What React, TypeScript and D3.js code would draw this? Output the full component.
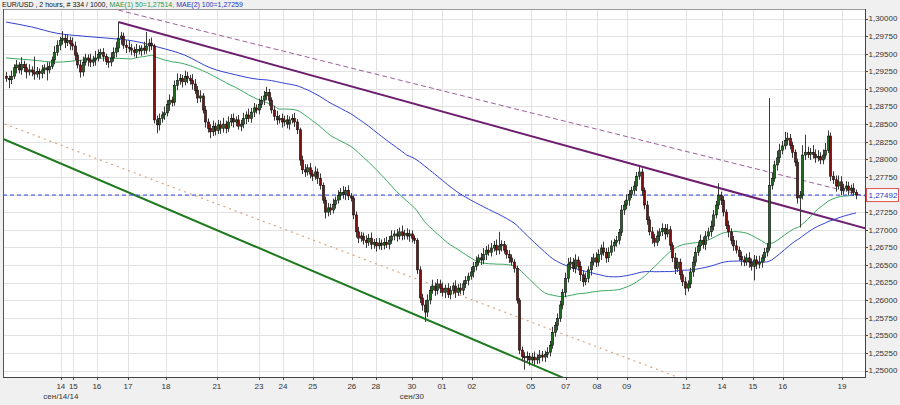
import React from 'react';
import * as d3 from 'd3';

// ---------- DATA ----------
const firstOpen = 1.2918;
const closes = [
  1.2915, 1.2913, 1.2918, 1.2930, 1.2934, 1.2927, 1.2935, 1.2930, 1.2924, 1.2927,
  1.2924, 1.2921, 1.2925, 1.2922, 1.2927, 1.2930, 1.2927, 1.2932, 1.2941, 1.2952,
  1.2962, 1.2969, 1.2972, 1.2966, 1.2969, 1.2964, 1.2961, 1.2948, 1.2934, 1.2924,
  1.2938, 1.2944, 1.2941, 1.2938, 1.2941, 1.2944, 1.2949, 1.2952, 1.2946, 1.2939,
  1.2938, 1.2944, 1.2952, 1.2958, 1.2972, 1.2975, 1.2962, 1.2959, 1.2958, 1.2955,
  1.2952, 1.2956, 1.2954, 1.2958, 1.2955, 1.2961, 1.2965, 1.2961, 1.2856, 1.2849,
  1.2858, 1.2863, 1.2866, 1.2878, 1.2884, 1.2881, 1.2905, 1.2912, 1.2915, 1.2910,
  1.2918, 1.2915, 1.2912, 1.2907, 1.2898, 1.2887, 1.2890, 1.2870, 1.2853, 1.2844,
  1.2839, 1.2847, 1.2841, 1.2849, 1.2844, 1.2850, 1.2844, 1.2853, 1.2858, 1.2853,
  1.2856, 1.2847, 1.2850, 1.2858, 1.2863, 1.2858, 1.2867, 1.2873, 1.2870, 1.2878,
  1.2884, 1.2890, 1.2895, 1.2884, 1.2870, 1.2861, 1.2856, 1.2858, 1.2853, 1.2856,
  1.2850, 1.2856, 1.2858, 1.2853, 1.2842, 1.2799, 1.2785, 1.2782, 1.2788, 1.2779,
  1.2776, 1.2782, 1.2773, 1.2763, 1.2742, 1.2725, 1.2731, 1.2728, 1.2736, 1.2742,
  1.2749, 1.2753, 1.2750, 1.2756, 1.2748, 1.2745, 1.2721, 1.2697, 1.2688, 1.2691,
  1.2685, 1.2682, 1.2688, 1.2679, 1.2682, 1.2677, 1.2681, 1.2678, 1.2682, 1.2679,
  1.2685, 1.2691, 1.2694, 1.2691, 1.2697, 1.2692, 1.2695, 1.2691, 1.2694, 1.2688,
  1.2685, 1.2643, 1.2603, 1.2593, 1.2583, 1.2600, 1.2614, 1.2620, 1.2614, 1.2623,
  1.2617, 1.2611, 1.2617, 1.2608, 1.2614, 1.2620, 1.2611, 1.2617, 1.2614, 1.2623,
  1.2628, 1.2634, 1.2640, 1.2648, 1.2654, 1.2660, 1.2657, 1.2665, 1.2671, 1.2668,
  1.2674, 1.2678, 1.2671, 1.2677, 1.2679, 1.2671, 1.2665, 1.2660, 1.2654, 1.2645,
  1.2600, 1.2529, 1.2520, 1.2518, 1.2520, 1.2515, 1.2519, 1.2515, 1.2518, 1.2522,
  1.2519, 1.2523, 1.2526, 1.2536, 1.2554, 1.2564, 1.2574, 1.2593, 1.2611, 1.2631,
  1.2651, 1.2654, 1.2645, 1.2657, 1.2648, 1.2636, 1.2626, 1.2631, 1.2643, 1.2654,
  1.2660, 1.2654, 1.2665, 1.2674, 1.2668, 1.2660, 1.2668, 1.2677, 1.2682, 1.2685,
  1.2696, 1.2728, 1.2735, 1.2742, 1.2750, 1.2756, 1.2762, 1.2776, 1.2782, 1.2756,
  1.2735, 1.2714, 1.2697, 1.2688, 1.2682, 1.2691, 1.2697, 1.2702, 1.2694, 1.2700,
  1.2678, 1.2660, 1.2645, 1.2654, 1.2636, 1.2626, 1.2617, 1.2623, 1.2640, 1.2654,
  1.2668, 1.2677, 1.2685, 1.2679, 1.2691, 1.2697, 1.2705, 1.2721, 1.2735, 1.2749,
  1.2742, 1.2725, 1.2706, 1.2697, 1.2685, 1.2677, 1.2671, 1.2662, 1.2657, 1.2654,
  1.2660, 1.2654, 1.2648, 1.2657, 1.2651, 1.2654, 1.2660, 1.2668, 1.2674, 1.2763,
  1.2773, 1.2792, 1.2802, 1.2813, 1.2819, 1.2827, 1.2830, 1.2820, 1.2810, 1.2796,
  1.2745, 1.2749, 1.2806, 1.2810, 1.2807, 1.2810, 1.2807, 1.2802, 1.2804, 1.2799,
  1.2806, 1.2813, 1.2833, 1.2776, 1.2771, 1.2762, 1.2768, 1.2756, 1.2759, 1.2762,
  1.2756, 1.2759, 1.2753, 1.27492,
];
// upper / lower shadow lengths in pips
const upperWicks = [
  6, 4, 8, 5, 7, 4, 10, 5, 6, 8, 5, 22, 6, 4, 7, 5, 8, 6, 5, 9,
  7, 5, 10, 6, 8, 5, 9, 6, 4, 7, 8, 6, 5, 9, 6, 10, 7, 5, 6, 4,
  6, 8, 7, 9, 23, 6, 5, 7, 9, 6, 5, 8, 6, 4, 9, 20, 6, 8, 3, 6,
  7, 5, 9, 6, 8, 5, 7, 10, 6, 5, 8, 6, 5, 9, 7, 6, 8, 4, 6, 5,
  6, 8, 5, 7, 6, 9, 5, 8, 6, 7, 5, 7, 6, 8, 5, 9, 6, 7, 5, 8,
  6, 7, 8, 5, 4, 6, 8, 5, 7, 6, 7, 5, 6, 8, 4, 3, 6, 8, 5, 7,
  6, 8, 5, 7, 4, 5, 7, 6, 8, 5, 7, 6, 9, 5, 7, 4, 3, 5, 7, 6,
  5, 7, 6, 8, 5, 6, 7, 5, 6, 8, 6, 8, 5, 7, 6, 9, 5, 7, 6, 5,
  4, 3, 5, 6, 7, 8, 6, 9, 5, 7, 6, 8, 5, 7, 6, 5, 8, 6, 7, 5,
  6, 5, 7, 6, 8, 5, 7, 9, 6, 8, 7, 6, 8, 20, 6, 5, 7, 6, 5, 4,
  4, 3, 5, 6, 7, 5, 6, 8, 5, 7, 6, 5, 7, 6, 8, 5, 7, 6, 5, 8,
  9, 7, 6, 8, 5, 7, 6, 8, 5, 7, 6, 8, 7, 5, 9, 6, 7, 8, 5, 6,
  5, 7, 6, 8, 6, 5, 7, 6, 10, 5, 4, 6, 5, 7, 6, 8, 5, 7, 6, 8,
  5, 4, 7, 6, 5, 6, 7, 5, 6, 8, 7, 6, 8, 5, 7, 6, 8, 7, 6, 17,
  5, 6, 4, 7, 5, 6, 8, 5, 7, 6, 6, 8, 5, 7, 6, 9, 5, 6, 7, 124,
  8, 6, 10, 9, 7, 12, 8, 6, 5, 4, 5, 6, 14, 25, 8, 6, 10, 7, 9, 6,
  8, 10, 8, 5, 7, 6, 9, 8, 6, 7, 6, 5, 7, 4,
];
const lowerWicks = [
  5, 12, 6, 4, 8, 5, 7, 6, 9, 5, 6, 8, 5, 9, 7, 6, 15, 5, 4, 6,
  5, 7, 6, 8, 5, 9, 6, 7, 5, 8, 6, 5, 9, 7, 6, 8, 5, 6, 7, 5,
  8, 6, 5, 7, 6, 9, 5, 8, 6, 7, 6, 8, 5, 7, 6, 5, 8, 6, 5, 12,
  8, 6, 7, 5, 9, 6, 5, 7, 6, 8, 5, 7, 6, 8, 5, 7, 6, 5, 8, 6,
  9, 6, 7, 5, 8, 6, 7, 5, 6, 8, 6, 5, 7, 6, 8, 5, 6, 7, 5, 6,
  5, 7, 6, 8, 5, 6, 7, 5, 8, 6, 6, 8, 5, 7, 6, 8, 6, 7, 5, 6,
  7, 5, 8, 6, 5, 9, 6, 7, 5, 6, 5, 7, 6, 8, 6, 5, 6, 8, 7, 5,
  6, 8, 5, 7, 6, 8, 5, 7, 6, 5, 7, 5, 6, 8, 5, 7, 6, 5, 8, 6,
  5, 6, 7, 8, 14, 7, 6, 5, 8, 6, 7, 6, 8, 5, 7, 6, 8, 5, 6, 7,
  6, 7, 5, 8, 6, 5, 7, 6, 8, 5, 6, 5, 7, 6, 8, 5, 6, 7, 5, 6,
  5, 6, 7, 17, 6, 8, 5, 7, 6, 8, 6, 7, 5, 6, 5, 6, 7, 5, 6, 7,
  6, 8, 5, 7, 6, 9, 7, 5, 6, 8, 5, 7, 6, 8, 5, 7, 6, 5, 8, 6,
  6, 5, 7, 6, 8, 5, 6, 7, 5, 8, 6, 7, 5, 8, 6, 5, 7, 6, 8, 5,
  7, 6, 8, 5, 7, 6, 10, 5, 6, 7, 6, 5, 7, 6, 8, 5, 7, 6, 5, 6,
  7, 6, 5, 8, 6, 7, 5, 6, 8, 6, 5, 8, 6, 20, 7, 6, 8, 5, 6, 4,
  6, 5, 8, 7, 6, 5, 7, 6, 8, 6, 8, 42, 6, 7, 5, 8, 6, 7, 5, 6,
  6, 5, 4, 7, 6, 8, 5, 7, 6, 5, 7, 6, 5, 6,
];

const ma50LeadBars = [0, 10, 20, 30, 40];
const ma50LeadValues = [1.2944, 1.2941, 1.2938, 1.2941, 1.2944];
const ma100LeadBars = [0, 10, 20, 30, 40, 50, 60, 70, 80, 90];
const ma100LeadValues = [1.2995, 1.2988, 1.2979, 1.2975, 1.2972, 1.2968, 1.2959, 1.2948, 1.2930, 1.2920];

const priceTicks = [1.25, 1.2525, 1.255, 1.2575, 1.26, 1.2625, 1.265, 1.2675, 1.27, 1.2725,
  1.275, 1.2775, 1.28, 1.2825, 1.285, 1.2875, 1.29, 1.2925, 1.295, 1.2975, 1.3];
const dateTickBars = [21.5, 26.4, 35.6, 47.8, 62.7, 82.6, 99.1, 108.5, 120.2, 135.5, 144.9, 159.0,
  170.8, 182.5, 205.6, 219.3, 231.5, 243.2, 266.4, 280.5, 292.6, 304.3, 327.5];
const dateTickLabels = ['14', '15', '16', '17', '18', '21', '23', '24', '25', '26', '28', '30',
  '01', '02', '05', '07', '08', '09', '12', '14', '15', '16', '19'];
const monthLabelBars = [21.5, 159.0];
const monthLabels = ['сен/14/14', 'сен/30'];

const lastPrice = 1.27492;

// trend lines: [bar, price] anchor pairs
const purpleSolidBars = [44, 336.5];
const purpleSolidPrices = [1.2995, 1.2702];
const purpleDashBars = [44, 336.5];
const purpleDashPrices = [1.3012, 1.2748];
const greenTrendBars = [-1.2, 217.4];
const greenTrendPrices = [1.2829, 1.2491];
const orangeTrendBars = [-1.2, 262.8];
const orangeTrendPrices = [1.2851, 1.2491];

const PIP = 0.0001;
const FONT = '"Liberation Sans", Arial, sans-serif';

export default function App() {
  const W = 900, H = 405;
  const L = 3, T = 9, R = 865, B = 377;
  const N = closes.length;
  const x = d3.scaleLinear().domain([0, N - 1]).range([6, 856]);
  const y = d3.scaleLinear().domain([1.25, 1.3]).range([370.5, 18.5]);

  const candles = closes.map((c, i) => {
    const o = i === 0 ? firstOpen : closes[i - 1];
    const h = Math.max(o, c) + upperWicks[i] * PIP;
    const l = Math.min(o, c) - lowerWicks[i] * PIP;
    return { i, o, h, l, c };
  });

  const maPoints = (n: number, leadBars: number[], leadVals: number[]) => {
    const pts: [number, number][] = leadBars.map((b, k) => [b, leadVals[k]]);
    for (let i = n - 1; i < N; i++) {
      pts.push([i, d3.mean(closes.slice(i - n + 1, i + 1)) as number]);
    }
    return pts;
  };
  const lineGen = d3.line<[number, number]>().x(d => x(d[0])).y(d => y(d[1])).curve(d3.curveMonotoneX);
  const ma50 = maPoints(50, ma50LeadBars, ma50LeadValues);
  const ma100 = maPoints(100, ma100LeadBars, ma100LeadValues);

  const extendLine = (bars: number[], prices: number[], fromBar: number, toBar: number) => {
    const s = d3.scaleLinear().domain(bars).range(prices);
    return `M${x(fromBar)},${y(s(fromBar))}L${x(toBar)},${y(s(toBar))}`;
  };

  const bull = '#1f6a1f';
  const bear = '#7e1010';

  return (
    <svg width={W} height={H} style={{ position: 'absolute', left: 0, top: 0, background: '#f0f0f0' }}
      fontFamily={FONT}>
      <defs>
        <clipPath id="plotClip">
          <rect x={L} y={T} width={R - L} height={B - T} />
        </clipPath>
      </defs>
      <rect x={0} y={0} width={W} height={H} fill="#f0f0f0" />
      <rect x={L} y={T} width={R - L} height={B - T} fill="#ffffff" />

      {/* grid */}
      {priceTicks.map((p, k) => (
        <line key={'hg' + k} x1={L} x2={R} y1={Math.round(y(p)) + 0.5} y2={Math.round(y(p)) + 0.5}
          stroke="#e2e2e2" strokeWidth={1} />
      ))}
      {dateTickBars.map((b, k) => (
        <line key={'vg' + k} x1={Math.round(x(b)) + 0.5} x2={Math.round(x(b)) + 0.5} y1={T} y2={B}
          stroke="#e2e2e2" strokeWidth={1} />
      ))}

      <g clipPath="url(#plotClip)">
        {/* trend lines */}
        <path d={extendLine(orangeTrendBars, orangeTrendPrices, -5, 300)} stroke="#dca47c" strokeWidth={1.2}
          strokeDasharray="2,4" fill="none" />
        <path d={extendLine(greenTrendBars, greenTrendPrices, -5, 240)} stroke="#1e7a1e" strokeWidth={2} fill="none" />
        <path d={extendLine(purpleDashBars, purpleDashPrices, 44, 345)} stroke="#a060a0" strokeWidth={1}
          strokeDasharray="5,3" fill="none" />
        <path d={extendLine(purpleSolidBars, purpleSolidPrices, 44, 345)} stroke="#6e1e6e" strokeWidth={2} fill="none" />

        {/* moving averages */}
        <path d={lineGen(ma100) || ''} stroke="#3040d0" strokeWidth={1} fill="none" />
        <path d={lineGen(ma50) || ''} stroke="#3aa860" strokeWidth={1} fill="none" />

        {/* current price line */}
        <line x1={L} x2={R} y1={y(lastPrice)} y2={y(lastPrice)} stroke="#3344dd" strokeWidth={1}
          strokeDasharray="4,3" />

        {/* candles */}
        {candles.map(d => {
          const cx = Math.round(x(d.i)) + 0.5;
          const top = y(Math.max(d.o, d.c));
          const bot = y(Math.min(d.o, d.c));
          const up = d.c >= d.o;
          return (
            <g key={'c' + d.i}>
              <line x1={cx} x2={cx} y1={y(d.h)} y2={y(d.l)} stroke="#3a3a3a" strokeWidth={1} />
              <rect x={cx - 1.1} y={top} width={2.2} height={Math.max(1, bot - top)}
                fill={up ? bull : bear} stroke="#111" strokeWidth={0.6} />
            </g>
          );
        })}
      </g>

      {/* frame */}
      <line x1={L} x2={R} y1={T + 0.5} y2={T + 0.5} stroke="#9a9a9a" strokeWidth={1} />
      <line x1={L + 0.5} x2={L + 0.5} y1={T} y2={B} stroke="#555" strokeWidth={1} />
      <line x1={L} x2={R} y1={B + 0.5} y2={B + 0.5} stroke="#444" strokeWidth={1} />
      <line x1={R + 0.5} x2={R + 0.5} y1={T} y2={B + 1} stroke="#444" strokeWidth={1} />

      {/* price axis */}
      {priceTicks.map((p, k) => (
        <g key={'yt' + k}>
          <line x1={R} x2={R + 3} y1={Math.round(y(p)) + 0.5} y2={Math.round(y(p)) + 0.5} stroke="#444" />
          <text x={R + 3.5} y={y(p)} dy="0.35em" fontSize={8} fill="#333">
            {d3.format('.5f')(p).replace('.', ',')}
          </text>
        </g>
      ))}
      <rect x={R + 1.5} y={y(lastPrice) - 6.5} width={32} height={13} fill="#ffffff" stroke="#e05050" strokeWidth={1} />
      <text x={R + 3.5} y={y(lastPrice)} dy="0.35em" fontSize={8} fill="#2233cc">
        {d3.format('.5f')(lastPrice).replace('.', ',')}
      </text>

      {/* date axis */}
      {dateTickBars.map((b, k) => (
        <g key={'xt' + k}>
          <line x1={Math.round(x(b)) + 0.5} x2={Math.round(x(b)) + 0.5} y1={B} y2={B + 3} stroke="#444" />
          <text x={x(b)} y={389} textAnchor="middle" fontSize={8} fill="#333">{dateTickLabels[k]}</text>
        </g>
      ))}
      {monthLabelBars.map((b, k) => (
        <text key={'ml' + k} x={x(b)} y={399} textAnchor="middle" fontSize={8} fill="#333">{monthLabels[k]}</text>
      ))}

      {/* title */}
      <text x={2} y={7} fontSize={7} fill="#111">
        <tspan>EUR/USD , 2 hours, # 334 / 1000, </tspan>
        <tspan fill="#2a9a4a">MAE(1) 50=1,27514, </tspan>
        <tspan fill="#2233bb">MAE(2) 100=1,27259</tspan>
      </text>
    </svg>
  );
}
